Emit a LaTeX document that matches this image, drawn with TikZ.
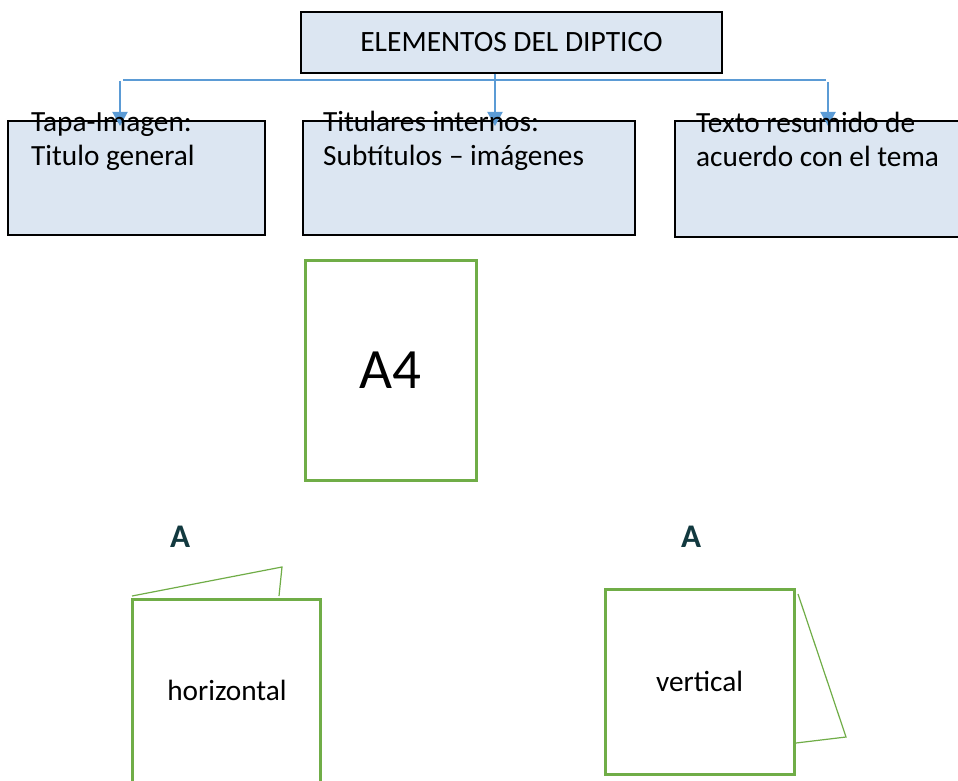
\documentclass[tikz,border=0pt]{standalone}
\usepackage{fontspec}
\setmainfont{Carlito}
\usetikzlibrary{arrows.meta}
\definecolor{boxfill}{HTML}{DCE6F2}
\definecolor{busblue}{HTML}{5B9BD5}
\definecolor{leafgreen}{HTML}{70AD47}
\definecolor{tealdark}{HTML}{12393F}
\tikzset{
  bluebox/.style={draw=black, line width=1.2pt, fill=boxfill, inner sep=0pt},
  boxtext/.style={anchor=base west, inner sep=0pt, align=left, font=\fontsize{29.3}{34}\selectfont},
  bus/.style={draw=busblue, line width=1.5pt},
  busarrow/.style={draw=busblue, line width=2pt, -{Triangle[width=15pt,length=14pt]}},
  sheet/.style={draw=leafgreen, line width=3pt, inner sep=0pt},
  foldline/.style={draw=leafgreen, line width=1.2pt, line join=miter},
  lbl/.style={inner sep=0pt, font=\fontsize{29.3}{34}\selectfont},
  biglabel/.style={inner sep=0pt, text=tealdark, font=\fontsize{33}{36}\selectfont\bfseries},
}
\begin{document}
\begin{tikzpicture}[x=1pt,y=-1pt]
\useasboundingbox (0,0) rectangle (958,781);
\clip (0,0) rectangle (958,781);
\fill[white] (0,0) rectangle (958,781);

% title box
\node[bluebox, minimum width=421pt, minimum height=61pt, font=\fontsize{29.5}{34}\selectfont] (title) at (511.5,42.5) {ELEMENTOS DEL DIPTICO};

% three boxes
\node[bluebox, minimum width=257pt, minimum height=114pt] (b1) at (136.5,178) {};
\node[bluebox, minimum width=332pt, minimum height=114pt] (b2) at (469,178) {};
\node[bluebox, minimum width=300pt, minimum height=116pt] (b3) at (825,179) {};

% bus
\coordinate (busL) at (123,80);
\coordinate (busR) at (826,80);
\draw[bus] (busL) -- (busR);
\coordinate (a1s) at (120,81);
\coordinate (a1e) at (120,126);
\coordinate (a2e) at (495,126);
\coordinate (a3s) at (828,82);
\coordinate (a3e) at (828,126);
\draw[busarrow] (a1s) -- (a1e);
\draw[busarrow] (title.south -| a2e) -- (a2e);
\draw[busarrow] (a3s) -- (a3e);

\node[boxtext] (t1) at (31,165) {Tapa-Imagen:\\Titulo general};
\node[boxtext] (t2) at (323,165) {Titulares internos:\\Subtítulos – imágenes};
\node[boxtext] (t3) at (696,166) {Texto resumido de\\acuerdo con el tema};

% A4 sheet
\node[sheet, minimum width=171pt, minimum height=220pt, font=\fontsize{57}{60}\selectfont] (a4) at (390.5,370) {A4};

% labels A
\node[biglabel] (la) at (180,537) {A};
\node[biglabel] (lb) at (691,537) {A};

% horizontal folded sheet
\node[sheet, minimum width=188pt, minimum height=220pt] (hs) at (226,709) {};
\node[lbl] (hst) at (227,690) {horizontal};
\coordinate (hf1) at (132,596);
\coordinate (hf2) at (282,567);
\coordinate (hf3) at (279,596);
\draw[foldline] (hf1) -- (hf2) -- (hf3);

% vertical folded sheet
\node[sheet, minimum width=189pt, minimum height=185pt, font=\fontsize{29.3}{34}\selectfont] (vs) at (699.5,681.5) {vertical};
\coordinate (vf1) at (798,594);
\coordinate (vf2) at (846,737);
\coordinate (vf3) at (796,743);
\draw[foldline] (vf1) -- (vf2) -- (vf3);
\end{tikzpicture}
\end{document}
